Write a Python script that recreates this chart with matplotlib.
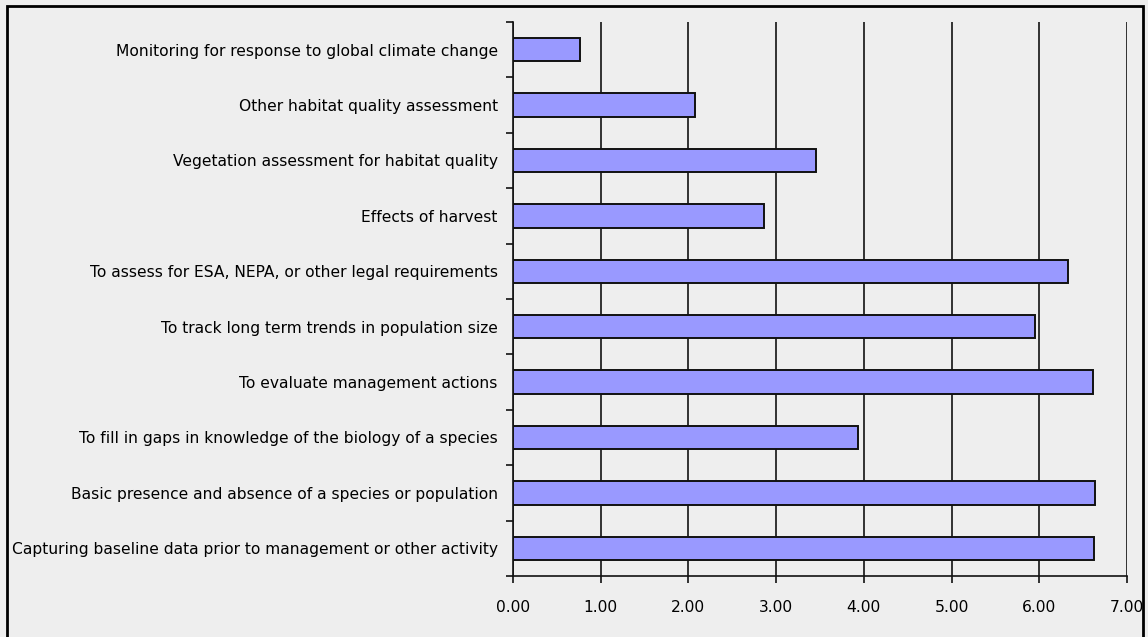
import matplotlib
matplotlib.use("Agg")
import matplotlib.pyplot as plt
import numpy as np
from matplotlib.patches import Rectangle

categories = [
    "Monitoring for response to global climate change",
    "Other habitat quality assessment",
    "Vegetation assessment for habitat quality",
    "Effects of harvest",
    "To assess for ESA, NEPA, or other legal requirements",
    "To track long term trends in population size",
    "To evaluate management actions",
    "To fill in gaps in knowledge of the biology of a species",
    "Basic presence and absence of a species or population",
    "Capturing baseline data prior to management or other activity",
]
values = [0.76, 2.08, 3.45, 2.86, 6.33, 5.95, 6.61, 3.93, 6.64, 6.62]
x_ticks = [0, 1, 2, 3, 4, 5, 6, 7]
x_tick_labels = ["0.00", "1.00", "2.00", "3.00", "4.00", "5.00", "6.00", "7.00"]

bg = "#eeeeee"
plt.rcParams["font.family"] = ["DejaVu Sans"]

W, H = 1148, 637
fig = plt.figure(figsize=(W / 100, H / 100), dpi=100, facecolor=bg)
ax = fig.add_axes([513 / W, 1 - 576 / H, (1127 - 513) / W, (576 - 22) / H])
ax.set_facecolor(bg)

n = len(categories)
pos = np.arange(n)
ax.barh(pos, values, height=0.42, color="#9999ff", edgecolor="#111111",
        linewidth=1.4, zorder=3)

ax.set_xlim(0, 7)
ax.set_ylim(n - 0.5, -0.5)

ax.set_xticks(x_ticks)
ax.set_xticklabels(x_tick_labels, fontsize=11.2)
ax.xaxis.grid(True, color="#111111", linewidth=1.2, zorder=1)
ax.tick_params(axis="x", direction="out", length=5, width=1.2, pad=12,
               color="#111111")

ax.set_yticks(pos)
ax.set_yticklabels(categories, fontsize=11.2)
ax.tick_params(axis="y", which="major", length=0, pad=11)
ax.set_yticks(np.arange(n + 1) - 0.5, minor=True)
ax.tick_params(axis="y", which="minor", direction="out", length=5, width=1.2,
               color="#111111")

for side in ["top", "right"]:
    ax.spines[side].set_visible(False)
for side in ["left", "bottom"]:
    ax.spines[side].set_color("#111111")
    ax.spines[side].set_linewidth(1.2)

# outer frame around the chart area
fig.patches.append(Rectangle((7 / W, -0.05), (1143 - 7) / W, 1 - 6 / H + 0.05,
                             transform=fig.transFigure, fill=False,
                             edgecolor="black", linewidth=2))

fig.savefig("out.png", dpi=100, facecolor=bg)
